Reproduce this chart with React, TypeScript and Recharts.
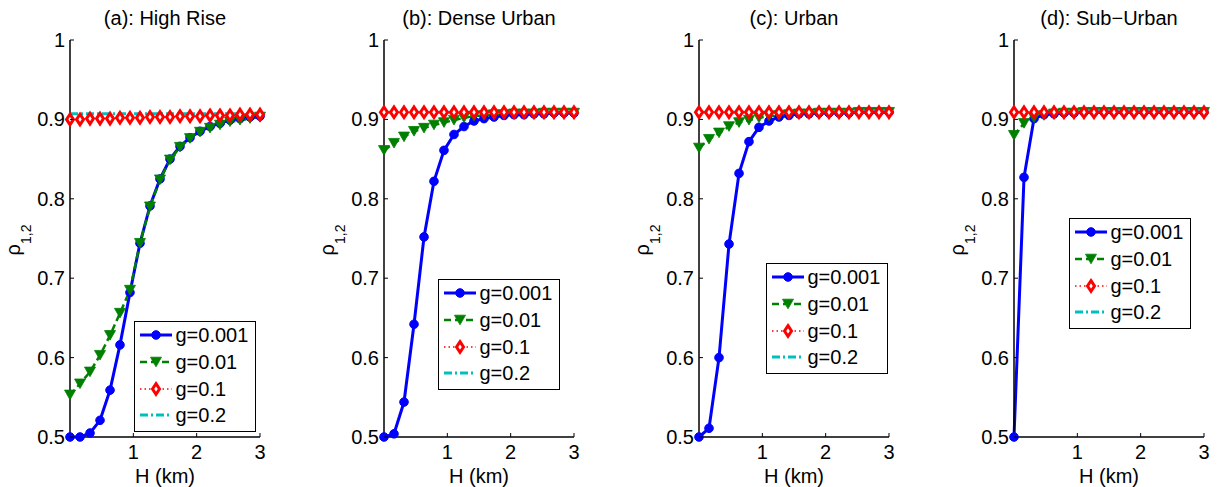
import React from 'react';
import { LineChart, Line, XAxis, YAxis, Legend, Label } from 'recharts';

// ---------- data ----------
const H = [0, 0.158, 0.316, 0.474, 0.632, 0.789, 0.947, 1.105, 1.263, 1.421, 1.579, 1.737, 1.895, 2.053, 2.211, 2.368, 2.526, 2.684, 2.842, 3.0];

const seriesLabels = ['g=0.001', 'g=0.01', 'g=0.1', 'g=0.2'];
const panelTitles = ['(a): High Rise', '(b): Dense Urban', '(c): Urban', '(d): Sub\u2212Urban'];
const xTicks = [1, 2, 3];
const yTicks = [0.5, 0.6, 0.7, 0.8, 0.9, 1];

const highRise_g0001 = [0.500, 0.500, 0.505, 0.521, 0.559, 0.616, 0.682, 0.744, 0.791, 0.825, 0.850, 0.866, 0.877, 0.885, 0.891, 0.895, 0.899, 0.901, 0.903, 0.904];
const highRise_g001 = [0.553, 0.567, 0.582, 0.603, 0.628, 0.656, 0.685, 0.744, 0.790, 0.824, 0.849, 0.865, 0.876, 0.884, 0.889, 0.893, 0.897, 0.899, 0.901, 0.903];
const highRise_g01 = [0.900, 0.900, 0.901, 0.901, 0.901, 0.902, 0.902, 0.902, 0.903, 0.903, 0.903, 0.904, 0.904, 0.904, 0.905, 0.905, 0.905, 0.906, 0.906, 0.906];
const highRise_g02 = [0.907, 0.907, 0.907, 0.907, 0.907, 0.907, 0.907, 0.907, 0.907, 0.907, 0.907, 0.907, 0.907, 0.907, 0.907, 0.907, 0.907, 0.907, 0.907, 0.907];

const dense_g0001 = [0.500, 0.504, 0.544, 0.642, 0.752, 0.822, 0.861, 0.881, 0.891, 0.898, 0.901, 0.903, 0.905, 0.906, 0.906, 0.907, 0.907, 0.908, 0.908, 0.908];
const dense_g001 = [0.861, 0.870, 0.878, 0.885, 0.889, 0.893, 0.896, 0.899, 0.902, 0.904, 0.905, 0.906, 0.906, 0.907, 0.907, 0.907, 0.908, 0.908, 0.908, 0.908];
const dense_g01 = [0.909, 0.909, 0.909, 0.909, 0.909, 0.909, 0.909, 0.909, 0.909, 0.909, 0.909, 0.909, 0.909, 0.909, 0.909, 0.909, 0.909, 0.909, 0.909, 0.909];
const dense_g02 = [0.909, 0.909, 0.909, 0.909, 0.909, 0.909, 0.909, 0.909, 0.909, 0.909, 0.909, 0.909, 0.909, 0.909, 0.909, 0.909, 0.909, 0.909, 0.909, 0.909];

const urban_g0001 = [0.500, 0.511, 0.600, 0.743, 0.832, 0.872, 0.890, 0.898, 0.903, 0.905, 0.907, 0.907, 0.908, 0.908, 0.908, 0.908, 0.909, 0.909, 0.909, 0.909];
const urban_g001 = [0.864, 0.875, 0.883, 0.891, 0.896, 0.899, 0.902, 0.904, 0.905, 0.906, 0.907, 0.907, 0.908, 0.908, 0.908, 0.908, 0.909, 0.909, 0.909, 0.909];
const urban_g01 = [0.909, 0.909, 0.909, 0.909, 0.909, 0.909, 0.909, 0.909, 0.909, 0.909, 0.909, 0.909, 0.909, 0.909, 0.909, 0.909, 0.909, 0.909, 0.909, 0.909];
const urban_g02 = [0.909, 0.909, 0.909, 0.909, 0.909, 0.909, 0.909, 0.909, 0.909, 0.909, 0.909, 0.909, 0.909, 0.909, 0.909, 0.909, 0.909, 0.909, 0.909, 0.909];

const sub_g0001 = [0.500, 0.827, 0.901, 0.906, 0.907, 0.908, 0.908, 0.909, 0.909, 0.909, 0.909, 0.909, 0.909, 0.909, 0.909, 0.909, 0.909, 0.909, 0.909, 0.909];
const sub_g001 = [0.880, 0.895, 0.902, 0.905, 0.907, 0.908, 0.908, 0.909, 0.909, 0.909, 0.909, 0.909, 0.909, 0.909, 0.909, 0.909, 0.909, 0.909, 0.909, 0.909];
const sub_g01 = [0.909, 0.909, 0.909, 0.909, 0.909, 0.909, 0.909, 0.909, 0.909, 0.909, 0.909, 0.909, 0.909, 0.909, 0.909, 0.909, 0.909, 0.909, 0.909, 0.909];
const sub_g02 = [0.909, 0.909, 0.909, 0.909, 0.909, 0.909, 0.909, 0.909, 0.909, 0.909, 0.909, 0.909, 0.909, 0.909, 0.909, 0.909, 0.909, 0.909, 0.909, 0.909];

// ---------- styling ----------
const FONT = '"Liberation Sans", Arial, Helvetica, sans-serif';
const KEYS = ['g0001', 'g001', 'g01', 'g02'];
const STYLES = [
  { color: '#0000ff', width: 3, dash: undefined as string | undefined, marker: 'circle' },
  { color: '#008000', width: 2.5, dash: '7 4', marker: 'tri' },
  { color: '#ff0000', width: 1.5, dash: '1.5 3', marker: 'diamond' },
  { color: '#00bfbf', width: 3, dash: '8 3 2 3', marker: 'none' },
];

const CHART_W = 300;
const CHART_H = 487;
const MARGIN = { top: 40, right: 40, bottom: 20, left: 30 };
const PLOT_CX = 165;

const PANELS = [
  { left: 0, legendLeft: 134, legendTop: 321, series: [highRise_g0001, highRise_g001, highRise_g01, highRise_g02] },
  { left: 314, legendLeft: 124, legendTop: 279, series: [dense_g0001, dense_g001, dense_g01, dense_g02] },
  { left: 629, legendLeft: 137, legendTop: 263, series: [urban_g0001, urban_g001, urban_g01, urban_g02] },
  { left: 944, legendLeft: 125, legendTop: 218, series: [sub_g0001, sub_g001, sub_g01, sub_g02] },
];

function MarkerShape({ type, cx, cy, color }: { type: string; cx: number; cy: number; color: string }) {
  if (cx == null || cy == null || isNaN(cx) || isNaN(cy)) return null;
  if (type === 'circle') return <circle cx={cx} cy={cy} r={4.3} fill={color} stroke={color} strokeWidth={1} />;
  if (type === 'tri')
    return <polygon points={`${cx - 5.5},${cy - 4.8} ${cx + 5.5},${cy - 4.8} ${cx},${cy + 4.8}`} fill={color} stroke={color} strokeWidth={0.8} />;
  if (type === 'diamond')
    return <polygon points={`${cx},${cy - 5.3} ${cx + 3.5},${cy} ${cx},${cy + 5.3} ${cx - 3.5},${cy}`} fill="#fff" stroke={color} strokeWidth={3} />;
  return null;
}

const txt = { fontFamily: FONT, fontSize: 20, fill: '#000' } as const;

function BottomTick(p: any) {
  const { x, y, payload } = p;
  return (
    <g>
      <line x1={x} y1={y} x2={x} y2={y - 4} stroke="#000" strokeWidth={1} />
      <text x={x} y={y + 22} textAnchor="middle" {...txt}>{String(payload.value)}</text>
    </g>
  );
}
function TopTick(p: any) {
  const { x, y } = p;
  return <line x1={x} y1={y} x2={x} y2={y + 4} stroke="#000" strokeWidth={1} />;
}
function LeftTick(p: any) {
  const { x, y, payload } = p;
  return (
    <g>
      <line x1={x} y1={y} x2={x + 4} y2={y} stroke="#000" strokeWidth={1} />
      <text x={x - 5} y={y + 7} textAnchor="end" {...txt}>{String(payload.value)}</text>
    </g>
  );
}
function RightTick(p: any) {
  const { x, y } = p;
  return <line x1={x} y1={y} x2={x - 4} y2={y} stroke="#000" strokeWidth={1} />;
}

function LegendBox() {
  return (
    <div style={{ width: 122, height: 111, boxSizing: 'border-box', border: '1.5px solid #000', background: '#fff', fontFamily: FONT }}>
      {STYLES.map((s, i) => (
        <div key={i} style={{ height: 26.7, display: 'flex', alignItems: 'center' }}>
          <svg width={38} height={26} style={{ flex: 'none', marginLeft: 2.5, display: 'block' }}>
            <line x1={2} y1={13} x2={34} y2={13} stroke={s.color} strokeWidth={s.width} strokeDasharray={s.dash} />
            <MarkerShape type={s.marker} cx={18} cy={13} color={s.color} />
          </svg>
          <span style={{ fontSize: 20, lineHeight: '20px', color: '#000', whiteSpace: 'nowrap' }}>{seriesLabels[i]}</span>
        </div>
      ))}
    </div>
  );
}

function Panel({ idx }: { idx: number }) {
  const panel = PANELS[idx];
  const data = H.map((h, i) => ({
    H: h,
    g0001: panel.series[0][i],
    g001: panel.series[1][i],
    g01: panel.series[2][i],
    g02: panel.series[3][i],
  }));
  const axisLine = { stroke: '#000', strokeWidth: 1.5 };
  return (
    <div style={{ position: 'absolute', left: panel.left, top: 0, width: CHART_W, height: CHART_H }}>
      <LineChart width={CHART_W} height={CHART_H} data={data} margin={MARGIN}>
        <XAxis dataKey="H" type="number" domain={[0, 3]} ticks={xTicks} interval={0} height={30}
          tickSize={0} tickMargin={0} tickLine={false} axisLine={axisLine} tick={(p: any) => <BottomTick {...p} />}>
          <Label content={() => (
            <g>
              <text x={PLOT_CX} y={483} textAnchor="middle" {...txt}>H (km)</text>
              <text x={PLOT_CX} y={25} textAnchor="middle" {...txt}>{panelTitles[idx]}</text>
            </g>
          )} />
        </XAxis>
        <XAxis xAxisId="top" orientation="top" dataKey="H" type="number" domain={[0, 3]} ticks={xTicks} interval={0} height={0}
          tickSize={0} tickMargin={0} tickLine={false} axisLine={axisLine} tick={(p: any) => <TopTick {...p} />} />
        <YAxis type="number" domain={[0.5, 1]} ticks={yTicks} interval={0} width={40}
          tickSize={0} tickMargin={0} tickLine={false} axisLine={axisLine} tick={(p: any) => <LeftTick {...p} />}>
          <Label content={() => (
            <text x={20} y={240} transform="rotate(-90, 20, 240)" textAnchor="middle" {...txt}>
              {'\u03c1'}<tspan fontSize={14} dy={11}>1,2</tspan>
            </text>
          )} />
        </YAxis>
        <YAxis yAxisId="right" orientation="right" type="number" domain={[0.5, 1]} ticks={yTicks} interval={0} width={0}
          tickSize={0} tickMargin={0} tickLine={false} axisLine={axisLine} tick={(p: any) => <RightTick {...p} />} />
        {STYLES.map((s, i) => (
          <Line key={KEYS[i]} type="linear" dataKey={KEYS[i]} name={seriesLabels[i]} stroke={s.color} strokeWidth={s.width}
            strokeDasharray={s.dash} isAnimationActive={false} activeDot={false}
            dot={(p: any) => <MarkerShape key={`${KEYS[i]}-${p.index}`} type={s.marker} cx={p.cx} cy={p.cy} color={s.color} />} />
        ))}
        <Legend layout="vertical" align="center" verticalAlign="middle" content={() => <LegendBox />}
          wrapperStyle={{ left: panel.legendLeft, top: panel.legendTop, width: 122, height: 111 }} />
      </LineChart>
    </div>
  );
}

export default function App() {
  return (
    <div style={{ position: 'fixed', left: 0, top: 0, width: 1217, height: 487, background: '#fff', overflow: 'hidden', fontFamily: FONT }}>
      {PANELS.map((_, i) => <Panel key={i} idx={i} />)}
    </div>
  );
}
